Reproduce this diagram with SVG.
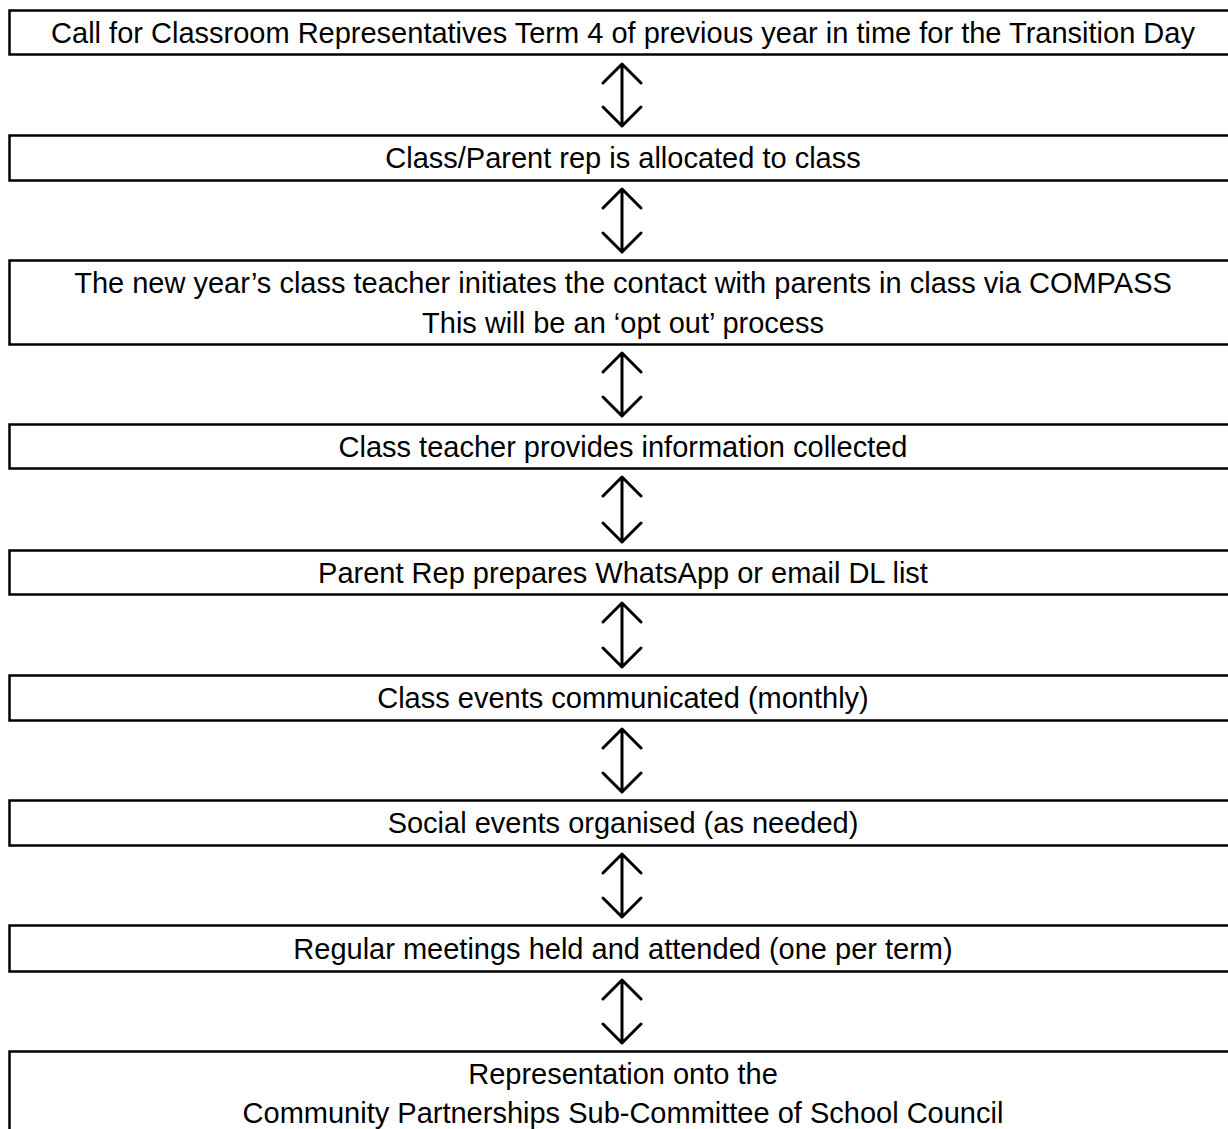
<svg xmlns="http://www.w3.org/2000/svg" width="1228" height="1129" viewBox="0 0 1228 1129">
<style>
.box{fill:#fff;stroke:#000;stroke-width:2.5}
.t{font-family:"Liberation Sans",Arial,sans-serif;font-size:29px;fill:#000;text-anchor:middle}
.arr{fill:none;stroke:#000;stroke-width:3;stroke-linecap:round;stroke-linejoin:round}
</style>
<rect width="1228" height="1129" fill="#fff"/>
<g id="n1"><rect class="box" x="9.5" y="10.5" width="1230" height="44"/><text class="t" x="623" y="43">Call for Classroom Representatives Term 4 of previous year in time for the Transition Day</text></g>
<g id="n2"><rect class="box" x="9.5" y="135.5" width="1230" height="45"/><text class="t" x="623" y="168">Class/Parent rep is allocated to class</text></g>
<g id="n3"><rect class="box" x="9.5" y="260.5" width="1230" height="84"/><text class="t" x="623" y="293">The new year’s class teacher initiates the contact with parents in class via COMPASS</text><text class="t" x="623" y="333">This will be an ‘opt out’ process</text></g>
<g id="n4"><rect class="box" x="9.5" y="424.5" width="1230" height="44"/><text class="t" x="623" y="457">Class teacher provides information collected</text></g>
<g id="n5"><rect class="box" x="9.5" y="550.5" width="1230" height="44"/><text class="t" x="623" y="583">Parent Rep prepares WhatsApp or email DL list</text></g>
<g id="n6"><rect class="box" x="9.5" y="675.5" width="1230" height="45"/><text class="t" x="623" y="708">Class events communicated (monthly)</text></g>
<g id="n7"><rect class="box" x="9.5" y="800.5" width="1230" height="45"/><text class="t" x="623" y="833">Social events organised (as needed)</text></g>
<g id="n8"><rect class="box" x="9.5" y="925.5" width="1230" height="46"/><text class="t" x="623" y="959">Regular meetings held and attended (one per term)</text></g>
<g id="n9"><rect class="box" x="9.5" y="1051.5" width="1230" height="120"/><text class="t" x="623" y="1084">Representation onto the</text><text class="t" x="623" y="1123">Community Partnerships Sub-Committee of School Council</text></g>
<g id="connectors">
<path class="arr" d="M622,64V126M603,83L622,64L641,83M603,107L622,126L641,107"/>
<path class="arr" d="M622,189V252M603,208L622,189L641,208M603,233L622,252L641,233"/>
<path class="arr" d="M622,353V416M603,372L622,353L641,372M603,397L622,416L641,397"/>
<path class="arr" d="M622,477V542M603,496L622,477L641,496M603,523L622,542L641,523"/>
<path class="arr" d="M622,603V667M603,622L622,603L641,622M603,648L622,667L641,648"/>
<path class="arr" d="M622,729V792M603,748L622,729L641,748M603,773L622,792L641,773"/>
<path class="arr" d="M622,854V917M603,873L622,854L641,873M603,898L622,917L641,898"/>
<path class="arr" d="M622,980V1043M603,999L622,980L641,999M603,1024L622,1043L641,1024"/>
</g>
</svg>
